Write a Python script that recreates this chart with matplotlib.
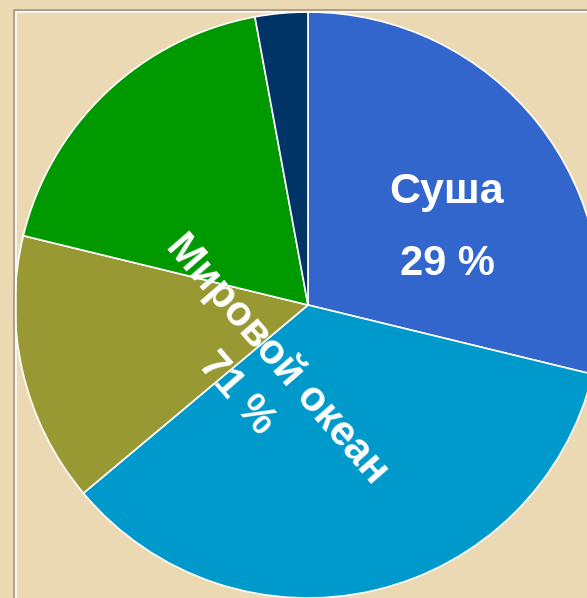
import matplotlib.pyplot as plt
from matplotlib.lines import Line2D

# Доли поверхности Земли (по часовой стрелке от верха)
доли = [28.8, 35.1, 14.9, 18.3, 2.9]
цвета = ["#3366CC", "#0099CC", "#999933", "#009900", "#003366"]
суша_подпись = "Суша"
суша_процент = "29 %"
океан_подпись = "Мировой океан"
океан_процент = "71 %"

W, H = 587, 598
fig = plt.figure(figsize=(W / 100, H / 100), dpi=100)
fig.patch.set_facecolor("#EBD9B3")
ax = fig.add_axes([0, 0, 1, 1])

# рамка слайда
for off, col in [(0, "#9A9080"), (1.5, "white")]:
    x0 = 14 + off
    y0 = H - 10 - off
    ax.add_line(Line2D([x0, x0, W + 10], [-10, y0, y0], color=col, lw=1.1))

ax.pie(доли, colors=цвета, startangle=90, counterclock=False,
       center=(308, H - 305), radius=293, frame=True,
       wedgeprops=dict(edgecolor="white", linewidth=1.2))
ax.set_xlim(0, W)
ax.set_ylim(0, H)
ax.set_aspect("equal")
ax.axis("off")

шрифт = dict(family=["Liberation Sans", "DejaVu Sans"], weight="bold", color="white",
             ha="center", va="center")
ax.text(447, H - 192, суша_подпись, fontsize=31, **шрифт)
ax.text(447, H - 264, суша_процент, fontsize=30, **шрифт)
ax.text(277, H - 359, океан_подпись, fontsize=30, rotation=-49,
        rotation_mode="anchor", **шрифт)
ax.text(236, H - 394, океан_процент, fontsize=30, rotation=-49,
        rotation_mode="anchor", **шрифт)

fig.savefig("out.png", dpi=100, facecolor=fig.get_facecolor())
